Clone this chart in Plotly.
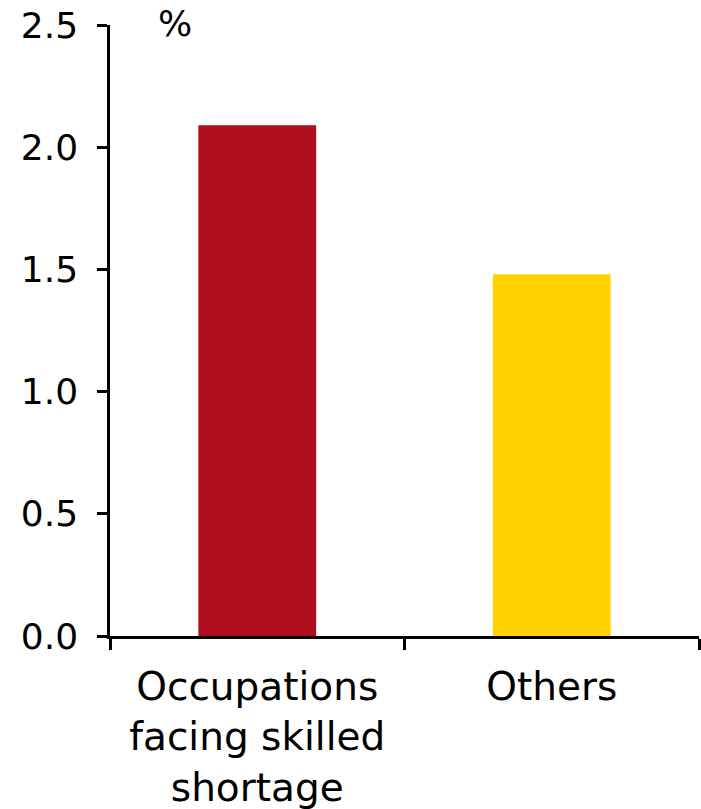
import plotly.graph_objects as go

categories = ["Occupations<br>facing skilled<br>shortage", "Others"]
values = [2.09, 1.48]
colors = ["#AF0D1E", "#FFD200"]
y_ticks = [0.0, 0.5, 1.0, 1.5, 2.0, 2.5]
y_tick_labels = ["0.0", "0.5", "1.0", "1.5", "2.0", "2.5"]
unit_label = "%"

FONT = "DejaVu Sans, Verdana, sans-serif"

fig = go.Figure(
    go.Bar(
        x=categories,
        y=values,
        marker=dict(color=colors, line=dict(width=0)),
        width=0.4,
    )
)

fig.update_layout(
    width=701,
    height=809,
    margin=dict(l=110, r=2, t=25, b=173, autoexpand=False),
    paper_bgcolor="white",
    plot_bgcolor="white",
    showlegend=False,
    font=dict(family=FONT, size=36, color="black"),
    annotations=[
        dict(
            text=unit_label,
            xref="paper",
            yref="paper",
            x=0.11,
            y=1.003,
            xanchor="center",
            yanchor="middle",
            showarrow=False,
            font=dict(family=FONT, size=36, color="black"),
        )
    ],
)

fig.update_xaxes(
    automargin=False,
    showline=True,
    linecolor="black",
    linewidth=2.5,
    ticks="outside",
    tickson="boundaries",
    ticklen=11,
    tickwidth=2.5,
    tickcolor="black",
    showgrid=False,
    zeroline=False,
    ticklabelstandoff=14,
    ticklabeloverflow="allow",
    tickfont=dict(family=FONT, size=39, color="black"),
)

fig.update_yaxes(
    automargin=False,
    range=[0, 2.5],
    tickvals=y_ticks,
    ticktext=y_tick_labels,
    showline=True,
    linecolor="black",
    linewidth=2.5,
    ticks="outside",
    ticklen=10,
    tickwidth=2.5,
    tickcolor="black",
    showgrid=False,
    zeroline=False,
    ticklabelstandoff=12,
    ticklabeloverflow="allow",
    tickfont=dict(family=FONT, size=36, color="black"),
)

fig.write_html(
    "out.html",
    config={"displayModeBar": False},
    post_script="document.body.style.margin='0px';document.body.style.overflow='hidden';",
)
